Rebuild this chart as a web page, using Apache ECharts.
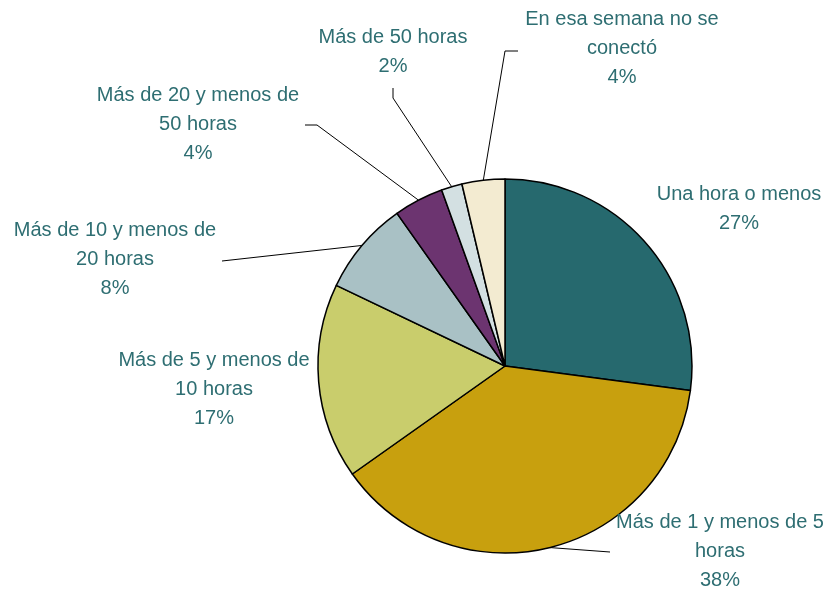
<!DOCTYPE html>
<html>
<head>
<meta charset="utf-8">
<script src="https://cdn.jsdelivr.net/npm/echarts@6/dist/echarts.min.js"></script>
<style>
  html, body { margin: 0; padding: 0; background: #fff; }
  #chart { width: 830px; height: 589px; }
</style>
</head>
<body>
<div id="chart"></div>
<script>
// slices, clockwise from 12 o'clock
const categories = [
  'Una hora o menos',
  'Más de 1 y menos de 5\nhoras',
  'Más de 5 y menos de\n10 horas',
  'Más de 10 y menos de\n20 horas',
  'Más de 20 y menos de\n50 horas',
  'Más de 50 horas',
  'En esa semana no se\nconectó'
]
const values = [27.1, 38.1, 16.9, 8.1, 4.3, 1.8, 3.7]
const colors = ['#26696E', '#C8A00E', '#C9CD6C', '#A9C1C5', '#6C3470', '#D3E0E2', '#F3EBD1']

// label placement (centre x, top y) and leader-line elbow/end points
const labelPos = [
  [739, 180, null],
  [720, 508, [[610, 552]]],
  [214, 346, null],
  [115, 216, [[222, 261]]],
  [198, 81, [[317, 125], [305, 125]]],
  [393, 23, [[393, 98], [393, 88]]],
  [622, 5, [[505, 51], [518, 51]]]
]

const chart = echarts.init(document.getElementById('chart'))

chart.setOption({
  animation: false,
  series: [{
    type: 'pie',
    center: [505, 366],
    radius: 187,
    startAngle: 90,
    clockwise: true,
    itemStyle: {
      borderColor: '#000',
      borderWidth: 1.5
    },
    label: {
      show: true,
      position: 'outside',
      color: '#2E6E72',
      fontFamily: 'Liberation Sans, Arial, sans-serif',
      fontSize: 20,
      lineHeight: 29,
      align: 'center',
      overflow: 'none',
      bleedMargin: 0,
      formatter: p => p.name + '\n' + Math.round(p.value) + '%'
    },
    labelLine: {
      show: true,
      lineStyle: { color: '#000', width: 1 }
    },
    labelLayout: p => {
      const pos = labelPos[p.dataIndex]
      const res = { x: pos[0], y: pos[1], align: 'center', verticalAlign: 'top', width: 300 }
      if (pos[2] && p.labelLinePoints) {
        res.labelLinePoints = [p.labelLinePoints[0]].concat(pos[2])
      }
      return res
    },
    data: categories.map((name, i) => ({
      name: name,
      value: values[i],
      itemStyle: { color: colors[i] },
      labelLine: { show: !!labelPos[i][2] }
    }))
  }]
})
</script>
</body>
</html>
